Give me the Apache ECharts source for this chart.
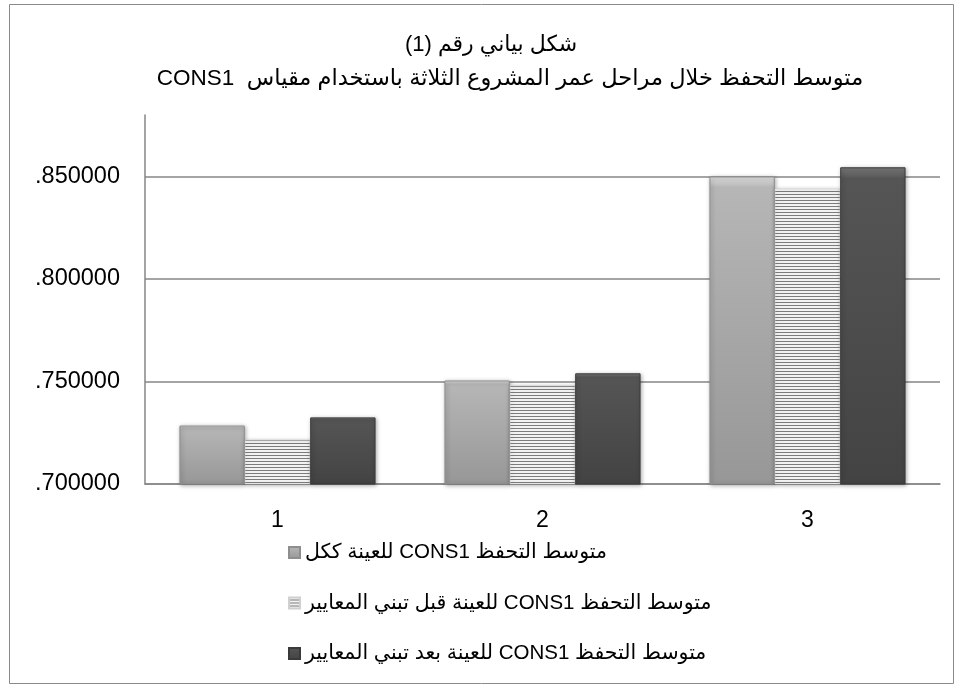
<!DOCTYPE html>
<html>
<head>
<meta charset="utf-8">
<script src="https://cdn.jsdelivr.net/npm/echarts@6/dist/echarts.min.js"></script>
<style>
  html, body { margin: 0; padding: 0; background: #fff; }
  #chart { width: 963px; height: 688px; }
</style>
</head>
<body>
<div id="chart"></div>
<script>
// categories (project stages) and the three series
const stages = ['1', '2', '3'];
const wholeSample = [0.7285, 0.7505, 0.8500];
const beforeStandards = [0.7215, 0.7480, 0.8440];
const afterStandards = [0.7325, 0.7540, 0.8545];

const seriesNames = [
    'متوسط التحفظ CONS1 للعينة ككل',
    'متوسط التحفظ CONS1 للعينة قبل تبني المعايير',
    'متوسط التحفظ CONS1 للعينة بعد تبني المعايير'
];
const titleLine1 = 'شكل بياني رقم (1)';
const titleLine2 = 'متوسط التحفظ خلال مراحل عمر المشروع الثلاثة باستخدام مقياس  CONS1';

// arabic text is drawn right-to-left
const rtl = s => '\u202B' + s + '\u202C';

const FONT = "'Liberation Sans', 'DejaVu Sans', sans-serif";

// horizontal stripes for the middle series
const stripe = document.createElement('canvas');
stripe.width = 4;
stripe.height = 3;
let sctx = stripe.getContext('2d');
sctx.fillStyle = '#f2f2f2';
sctx.fillRect(0, 0, 4, 3);
sctx.fillStyle = '#7c7c7c';
sctx.fillRect(0, 2, 4, 1);

let myChart = echarts.init(document.getElementById('chart'));

const barShadow = {
    shadowBlur: 4,
    shadowColor: 'rgba(0,0,0,0.35)',
    shadowOffsetX: 1,
    shadowOffsetY: 1
};

let option = {
    backgroundColor: '#fff',
    animation: false,
    title: [
        {
            text: rtl(titleLine1),
            left: 486,
            top: 29,
            textAlign: 'center',
            textStyle: { fontFamily: FONT, fontSize: 22, fontWeight: 'normal', color: '#000' }
        },
        {
            text: rtl(titleLine2),
            left: 505,
            top: 62,
            textAlign: 'center',
            textStyle: { fontFamily: FONT, fontSize: 22.5, fontWeight: 'normal', color: '#000' }
        }
    ],
    graphic: [
        {
            type: 'rect',
            shape: { x: 9.5, y: 4.5, width: 944, height: 679 },
            style: { fill: null, stroke: '#8a8a8a', lineWidth: 1 },
            silent: true
        }
    ],
    legend: {
        orient: 'vertical',
        left: 283,
        top: 536,
        itemWidth: 11,
        itemHeight: 11,
        itemGap: 27.5,
        icon: 'rect',
        textStyle: { fontFamily: FONT, fontSize: 20.5, color: '#000', lineHeight: 23 },
        data: seriesNames.map(rtl)
    },
    grid: {
        left: 145,
        right: 23,
        top: 115,
        bottom: 204,
        containLabel: false
    },
    xAxis: {
        type: 'category',
        data: stages,
        axisTick: { show: false },
        axisLine: { lineStyle: { color: '#868686', width: 1.5 } },
        axisLabel: { fontFamily: FONT, fontSize: 23, color: '#000', margin: 25 }
    },
    yAxis: {
        type: 'value',
        min: 0.7,
        max: 0.88,
        interval: 0.05,
        axisLine: { show: true, lineStyle: { color: '#868686', width: 1.5 } },
        axisTick: { show: false },
        axisLabel: {
            fontFamily: FONT,
            fontSize: 23.5,
            color: '#000',
            margin: 25,
            showMaxLabel: false,
            formatter: v => v.toFixed(6).replace(/^0/, '')
        },
        splitLine: { showMaxLine: false, lineStyle: { color: '#868686', width: 1.5 } }
    },
    series: [
        {
            name: rtl(seriesNames[0]),
            type: 'bar',
            data: wholeSample,
            barGap: '0%',
            barCategoryGap: '26%',
            itemStyle: Object.assign({
                color: new echarts.graphic.LinearGradient(0, 0, 0, 1, [
                    { offset: 0, color: '#e0e0e0' },
                    { offset: 0.035, color: '#b6b6b6' },
                    { offset: 1, color: '#979797' }
                ]),
                borderColor: '#8e8e8e',
                borderWidth: 1
            }, barShadow)
        },
        {
            name: rtl(seriesNames[1]),
            type: 'bar',
            data: beforeStandards,
            barGap: '0%',
            barCategoryGap: '26%',
            itemStyle: Object.assign({
                color: { image: stripe, repeat: 'repeat' },
                borderColor: '#d0d0d0',
                borderWidth: 0.5
            }, barShadow)
        },
        {
            name: rtl(seriesNames[2]),
            type: 'bar',
            data: afterStandards,
            barGap: '0%',
            barCategoryGap: '26%',
            itemStyle: Object.assign({
                color: new echarts.graphic.LinearGradient(0, 0, 0, 1, [
                    { offset: 0, color: '#7a7a7a' },
                    { offset: 0.035, color: '#555555' },
                    { offset: 1, color: '#434343' }
                ]),
                borderColor: '#3a3a3a',
                borderWidth: 1
            }, barShadow)
        }
    ]
};

option && myChart.setOption(option);
</script>
</body>
</html>
